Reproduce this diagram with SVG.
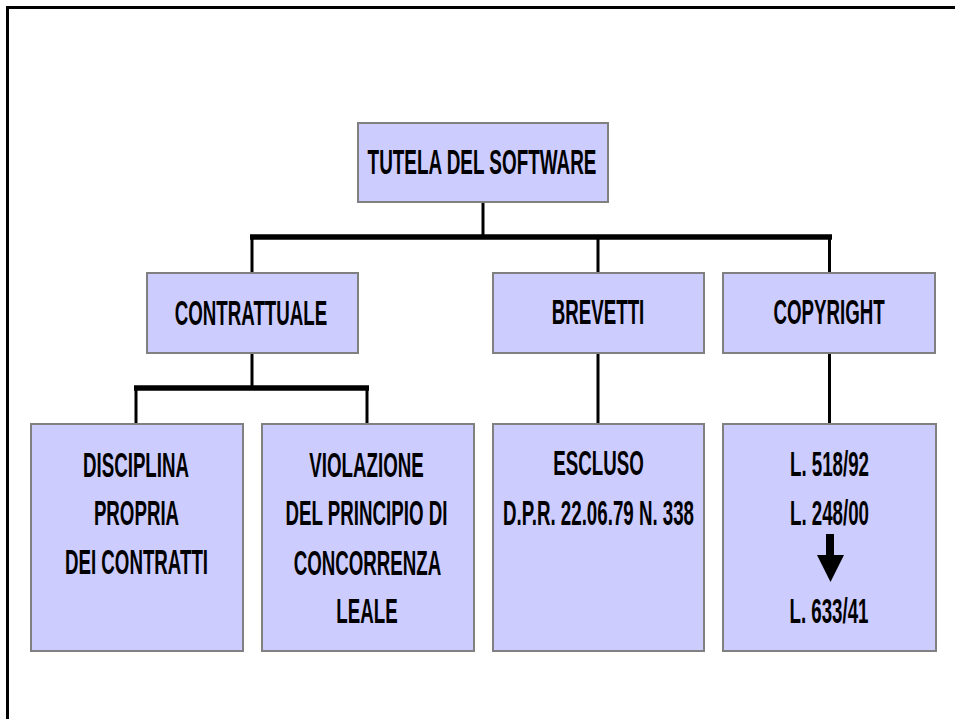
<svg xmlns="http://www.w3.org/2000/svg" width="955" height="719" viewBox="0 0 955 719">
<style>
.box{fill:#CCCCFF;stroke:#808080;stroke-width:2}
.t{font-family:"Liberation Sans",Arial,sans-serif;font-weight:bold;font-size:35px;fill:#000;text-anchor:middle}
.thin{stroke:#000;stroke-width:3;fill:none}
.thick{stroke:#000;stroke-width:5.5;fill:none}
</style>
<rect width="955" height="719" fill="#fff"/>
<path d="M7.5,719 V7.5 H955" fill="none" stroke="#000" stroke-width="3"/>
<g id="connectors">
<line class="thin" x1="483" y1="202" x2="483" y2="237"/>
<line class="thick" x1="250" y1="237" x2="832" y2="237"/>
<line class="thin" x1="252" y1="237" x2="252" y2="273"/>
<line class="thin" x1="598" y1="237" x2="598" y2="273"/>
<line class="thin" x1="829.5" y1="237" x2="829.5" y2="273"/>
<line class="thin" x1="252" y1="353" x2="252" y2="388"/>
<line class="thick" x1="134" y1="388" x2="369" y2="388"/>
<line class="thin" x1="136" y1="388" x2="136" y2="424"/>
<line class="thin" x1="367" y1="388" x2="367" y2="424"/>
<line class="thin" x1="598" y1="353" x2="598" y2="424"/>
<line class="thin" x1="829.5" y1="353" x2="829.5" y2="424"/>
</g>
<g id="n-tutela">
<rect class="box" x="358" y="123" width="250" height="79"/>
<text class="t" transform="translate(482,174) scale(0.54,1)">TUTELA DEL SOFTWARE</text>
</g>
<g id="n-contrattuale">
<rect class="box" x="147" y="273" width="211" height="80"/>
<text class="t" transform="translate(251,325) scale(0.535,1)">CONTRATTUALE</text>
</g>
<g id="n-brevetti">
<rect class="box" x="493" y="273" width="211" height="80"/>
<text class="t" transform="translate(598,324) scale(0.535,1)">BREVETTI</text>
</g>
<g id="n-copyright">
<rect class="box" x="723" y="273" width="212" height="80"/>
<text class="t" transform="translate(829,324) scale(0.535,1)">COPYRIGHT</text>
</g>
<g id="n-disciplina">
<rect class="box" x="31" y="424" width="212" height="227"/>
<text class="t" transform="translate(136,477) scale(0.535,1)">DISCIPLINA</text>
<text class="t" transform="translate(136.5,525) scale(0.535,1)">PROPRIA</text>
<text class="t" transform="translate(136.5,574) scale(0.535,1)">DEI CONTRATTI</text>
</g>
<g id="n-violazione">
<rect class="box" x="262" y="424" width="212" height="227"/>
<text class="t" transform="translate(366.5,477) scale(0.535,1)">VIOLAZIONE</text>
<text class="t" transform="translate(366.5,525) scale(0.535,1)">DEL PRINCIPIO DI</text>
<text class="t" transform="translate(367.5,575) scale(0.535,1)">CONCORRENZA</text>
<text class="t" transform="translate(367,623) scale(0.535,1)">LEALE</text>
</g>
<g id="n-escluso">
<rect class="box" x="493" y="424" width="211" height="227"/>
<text class="t" transform="translate(598.5,475) scale(0.535,1)">ESCLUSO</text>
<text class="t" transform="translate(598.5,525) scale(0.535,1)">D.P.R. 22.06.79 N. 338</text>
</g>
<g id="n-leggi">
<rect class="box" x="723" y="424" width="213" height="227"/>
<text class="t" transform="translate(829.5,476) scale(0.535,1)">L. 518/92</text>
<text class="t" transform="translate(829.5,525) scale(0.535,1)">L. 248/00</text>
<path d="M826,534 H834 V555 H844 L830.5,582 L817,555 H826 Z" fill="#000"/>
<text class="t" transform="translate(829,623) scale(0.535,1)">L. 633/41</text>
</g>
</svg>
